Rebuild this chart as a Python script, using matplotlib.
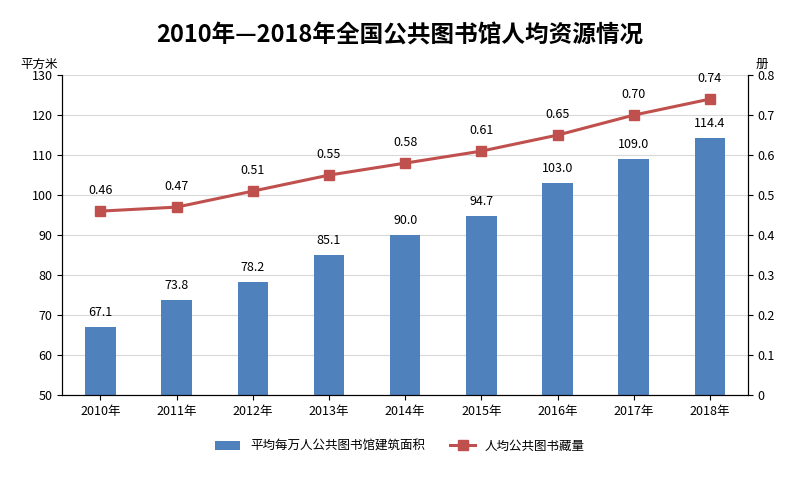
import matplotlib.pyplot as plt
from matplotlib import font_manager

cjk = ['Noto Sans CJK SC', 'Noto Sans CJK JP', 'Noto Sans CJK TC', 'Noto Sans CJK KR']
found = [f.name for f in font_manager.fontManager.ttflist if 'CJK' in f.name]
plt.rcParams['font.family'] = 'sans-serif'
plt.rcParams['font.sans-serif'] = cjk + found + ['DejaVu Sans']

years = ['2010年', '2011年', '2012年', '2013年', '2014年', '2015年', '2016年', '2017年', '2018年']
area = [67.1, 73.8, 78.2, 85.1, 90.0, 94.7, 103.0, 109.0, 114.4]
books = [0.46, 0.47, 0.51, 0.55, 0.58, 0.61, 0.65, 0.70, 0.74]

fig = plt.figure(figsize=(8, 5.04), dpi=100)
ax = fig.add_axes([0.078, 0.216, 0.857, 0.635])
x = range(len(years))
bars = ax.bar(x, [a - 50 for a in area], bottom=50, width=0.4, color='#4F81BD')
for i, a in enumerate(area):
    ax.text(i, a + 2, f'{a:.1f}', ha='center', va='bottom', fontsize=9)
ax.set_ylim(50, 130)
ax.set_yticks(range(50, 131, 10))
ax.set_xlim(-0.5, len(years) - 0.5)
ax.set_xticks(list(x))
ax.set_xticklabels(years, fontsize=9)
ax.tick_params(labelsize=9)
ax.grid(axis='y', color='#d9d9d9', lw=0.8)
ax.set_axisbelow(True)
ax.spines['top'].set_visible(False)

ax2 = ax.twinx()
line, = ax2.plot(x, books, color='#C0504D', marker='s', lw=2.2, ms=7)
for i, b in enumerate(books):
    ax2.text(i, b + 0.035, f'{b:.2f}', ha='center', va='bottom', fontsize=9)
ax2.set_ylim(0, 0.8)
ax2.set_yticks([i / 10 for i in range(9)])
ax2.set_yticklabels(['0'] + [f'{i/10:.1f}' for i in range(1, 9)])
ax2.tick_params(labelsize=9)
ax2.spines['top'].set_visible(False)

fig.text(0.5, 0.93, '2010年—2018年全国公共图书馆人均资源情况', ha='center', va='center',
         fontsize=17, fontweight='bold')
fig.text(0.025, 0.865, '平方米', fontsize=9)
fig.text(0.945, 0.865, '册', fontsize=9)
fig.legend([bars, line], ['平均每万人公共图书馆建筑面积', '人均公共图书藏量'], loc='center',
           bbox_to_anchor=(0.5, 0.115), ncol=2, frameon=False, fontsize=9)
fig.savefig('out.png')
